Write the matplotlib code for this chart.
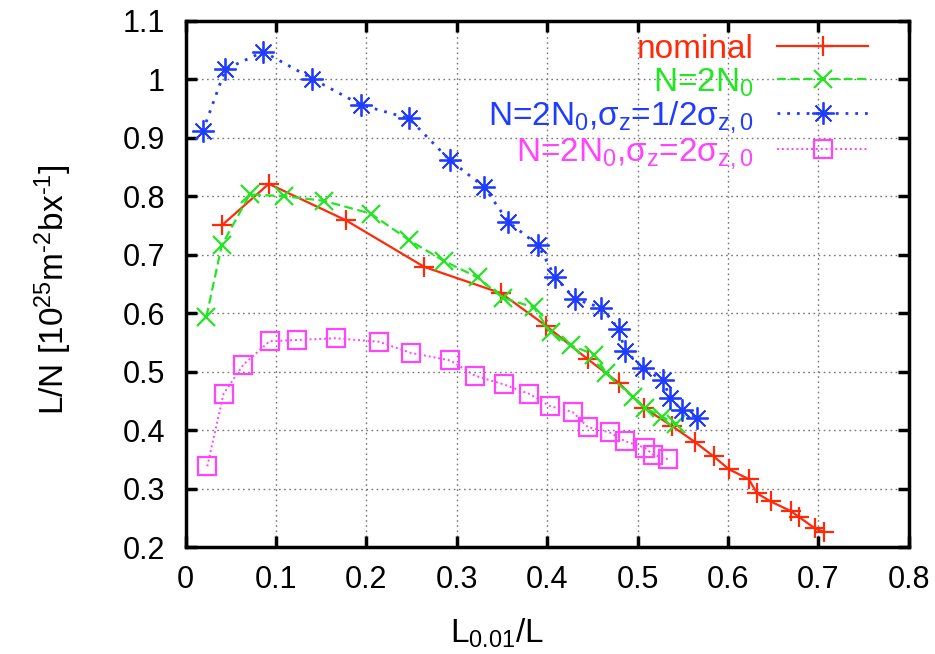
import matplotlib
matplotlib.use("Agg")
import matplotlib.pyplot as plt

plt.rcParams['font.family'] = ['Liberation Sans', 'DejaVu Sans']
plt.rcParams['mathtext.fontset'] = 'custom'
plt.rcParams['mathtext.rm'] = 'Liberation Sans'
plt.rcParams['mathtext.it'] = 'Liberation Sans'
plt.rcParams['mathtext.sf'] = 'Liberation Sans'

# nominal
x_nom = [0.040, 0.092, 0.177, 0.264, 0.349, 0.399, 0.445, 0.479, 0.507, 0.538,
         0.563, 0.584, 0.601, 0.623, 0.632, 0.647, 0.670, 0.678, 0.696, 0.706]
y_nom = [0.750, 0.821, 0.759, 0.679, 0.634, 0.578, 0.521, 0.481, 0.438, 0.407,
         0.380, 0.355, 0.333, 0.316, 0.292, 0.278, 0.261, 0.252, 0.232, 0.226]

# N = 2 N0
x_2n = [0.023, 0.040, 0.071, 0.109, 0.153, 0.205, 0.247, 0.286, 0.323, 0.351,
        0.385, 0.404, 0.426, 0.452, 0.465, 0.495, 0.508, 0.527, 0.542]
y_2n = [0.594, 0.716, 0.803, 0.800, 0.792, 0.770, 0.725, 0.689, 0.661, 0.626,
        0.610, 0.567, 0.545, 0.529, 0.498, 0.456, 0.438, 0.423, 0.410]

# N = 2 N0, sigma_z = 1/2 sigma_z0
x_half = [0.019, 0.044, 0.086, 0.140, 0.194, 0.247, 0.292, 0.330, 0.357, 0.390,
          0.409, 0.431, 0.460, 0.479, 0.486, 0.506, 0.528, 0.536, 0.549, 0.566]
y_half = [0.911, 1.017, 1.047, 1.001, 0.956, 0.933, 0.862, 0.816, 0.756, 0.716,
          0.661, 0.624, 0.609, 0.573, 0.536, 0.506, 0.485, 0.455, 0.434, 0.421]

# N = 2 N0, sigma_z = 2 sigma_z0
x_dbl = [0.024, 0.042, 0.064, 0.093, 0.123, 0.166, 0.214, 0.249, 0.293, 0.320,
         0.352, 0.380, 0.403, 0.428, 0.445, 0.469, 0.486, 0.508, 0.517, 0.534]
y_dbl = [0.338, 0.462, 0.512, 0.552, 0.554, 0.557, 0.551, 0.532, 0.519, 0.493,
         0.478, 0.462, 0.441, 0.431, 0.405, 0.396, 0.381, 0.370, 0.358, 0.350]

labels = ['nominal',
          r'N=2N$_0$',
          r'N=2N$_0$,$\sigma_\mathrm{z}$=1/2$\sigma_\mathrm{z,0}$',
          r'N=2N$_0$,$\sigma_\mathrm{z}$=2$\sigma_\mathrm{z,0}$']
colors = ['#ff2a0a', '#22e622', '#1f3cff', '#ff44ff']

x_ticks = [0, 0.1, 0.2, 0.3, 0.4, 0.5, 0.6, 0.7, 0.8]
x_tick_labels = ['0', '0.1', '0.2', '0.3', '0.4', '0.5', '0.6', '0.7', '0.8']
y_ticks = [0.2, 0.3, 0.4, 0.5, 0.6, 0.7, 0.8, 0.9, 1.0, 1.1]
y_tick_labels = ['0.2', '0.3', '0.4', '0.5', '0.6', '0.7', '0.8', '0.9', '1', '1.1']

fig = plt.figure(figsize=(9.35, 6.54), dpi=100)
ax = fig.add_axes([0.1985, 0.1636, 0.7735, 0.8047])

ax.plot(x_nom, y_nom, color=colors[0], ls='-', lw=1.6, marker='+', ms=15, mew=1.6,
        label=labels[0])
ax.plot(x_2n, y_2n, color=colors[1], ls=(0, (4, 2)), lw=1.6, marker='x', ms=13, mew=1.6,
        label=labels[1])
ax.plot(x_half, y_half, color=colors[2], ls=(0, (1, 2.5)), lw=2.0, marker=(8, 2, 0), ms=16,
        mew=1.3, label=labels[2])
ax.plot(x_dbl, y_dbl, color=colors[3], ls=(0, (1, 1.5)), lw=1.4, marker='s', ms=12.5,
        mew=1.6, mfc='none', label=labels[3])

ax.set_xlim(0, 0.8)
ax.set_ylim(0.2, 1.1)
ax.set_xticks(x_ticks)
ax.set_xticklabels(x_tick_labels)
ax.set_yticks(y_ticks)
ax.set_yticklabels(y_tick_labels)
ax.tick_params(direction='in', length=8, width=2.5, labelsize=22, top=True, right=True)
ax.tick_params(axis='x', pad=13)
ax.tick_params(axis='y', pad=15)
ax.grid(True, color='#777777', ls=(0, (1.2, 2.5)), lw=1.0)
for s in ax.spines.values():
    s.set_linewidth(2.5)

ax.set_xlabel(r'L$_{0.01}$/L', fontsize=24)
ax.xaxis.set_label_coords(0.43, -0.182)
ax.xaxis.label.set_va('baseline')
ax.set_ylabel(r'L/N [10$^{25}$m$^{\text{-}2}$bx$^{\text{-}1}$]', fontsize=24)
ax.yaxis.set_label_coords(-0.183, 0.49)
ax.yaxis.label.set_va('center')

leg = ax.legend(loc='upper right', markerfirst=False, frameon=False, fontsize=24,
                handlelength=2.73, handletextpad=0.72, labelspacing=0.03,
                borderaxespad=0, borderpad=0, bbox_to_anchor=(0.944, 0.9745))
for t, c in zip(leg.get_texts(), colors):
    t.set_color(c)

fig.savefig('out.png', dpi=100)
